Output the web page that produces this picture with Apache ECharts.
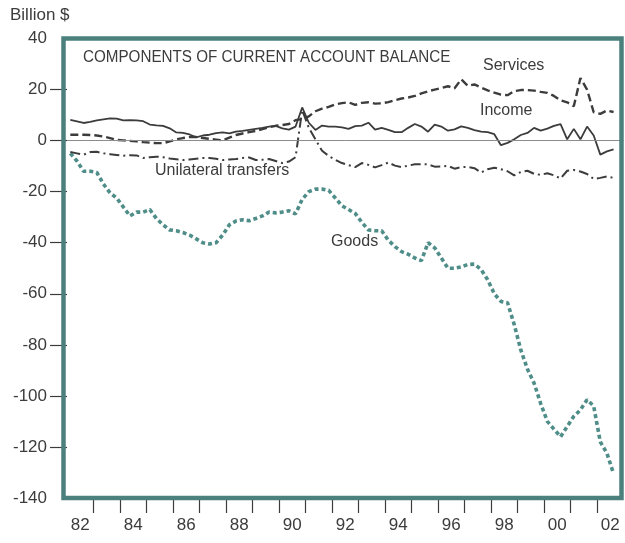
<!DOCTYPE html>
<html>
<head>
<meta charset="utf-8">
<title>Components of current account balance</title>
<script src="https://cdn.jsdelivr.net/npm/echarts@6/dist/echarts.min.js"></script>
<style>
    html, body { margin: 0; padding: 0; background: #fff; }
    #chart { width: 625px; height: 543px; }
</style>
</head>
<body>
<div id="chart"></div>
<script>
// quarterly values, 1982Q1 .. 2002Q3, billion $
const firstYear = 1982;

const goods = [
    -5, -8, -12, -12, -12.5, -17, -20.5, -22.5, -26, -29.5,
    -28, -28, -27, -30.5, -33, -35, -35.3, -36, -37, -38.5,
    -40, -40.5, -40, -37, -33, -31.5, -31, -31.4, -30.5, -29.5,
    -28, -28.3, -28, -27.5, -28.7, -23, -20, -19, -19, -19.5,
    -22.5, -25.5, -27, -28.5, -32, -35, -35.3, -35.3, -39, -41.5,
    -43.5, -44.5, -46, -47, -40, -42, -46, -50, -50, -49.5,
    -48.5, -48.4, -50.5, -54.5, -60, -63, -63.5, -72, -82, -89.5,
    -95, -103, -110, -113, -116, -112, -108, -105.5, -101.5, -104,
    -118, -122.5, -130.5,
];

const services = [
    2.3, 2.3, 2.3, 2.2, 2.0, 1.6, 1.0, 0.3, 0.1, -0.1,
    -0.3, -0.6, -0.8, -1.0, -1.0, -0.3, 0.5, 1.0, 1.4, 1.4,
    1.0, 0.7, 0.4, 0.1, 1.2, 2.2, 2.8, 3.3, 3.8, 4.5,
    5.2, 5.8, 6.1, 6.5, 8.0, 8.5, 9.5, 11.5, 12.5, 13.2,
    14.2, 14.7, 15.0, 14.0, 14.8, 15.0, 14.5, 14.6, 15.1, 15.8,
    16.5, 16.9, 17.5, 18.5, 19.3, 20.0, 20.6, 21.3, 20.5, 24.0,
    21.5, 22.0, 20.8, 19.7, 18.8, 18.0, 17.8, 19.4, 19.8, 19.8,
    19.6, 19.1, 18.7, 17.5, 15.8, 15.0, 13.5, 24.5, 20.0, 11.1,
    10.5, 11.8, 11.2,
];

const income = [
    8.1, 7.5, 6.9, 7.3, 7.9, 8.3, 8.7, 8.6, 7.9, 8.0,
    7.9, 7.6, 6.3, 6.0, 5.8, 4.8, 3.2, 3.0, 2.4, 1.3,
    2.0, 2.3, 2.9, 3.2, 2.8, 3.5, 3.8, 4.2, 4.6, 5.0,
    5.5, 5.8, 4.8, 4.3, 5.5, 13, 7, 4.2, 5.9, 5.5,
    5.5, 5.2, 4.6, 5.7, 5.9, 7.0, 4.3, 5.0, 4.2, 3.3,
    3.3, 5.0, 6.5, 5.5, 3.5, 6.3, 5.5, 3.9, 4.4, 5.6,
    5.0, 4.1, 3.5, 3.3, 2.5, -1.8, -0.9, 0.5, 2.2, 3.0,
    5.0, 3.9, 4.7, 5.8, 6.5, 0.5, 4.6, 0.5, 5.5, 2.0,
    -5.5, -4.2, -3.4,
];

const unilateralTransfers = [
    -4.5, -5.0, -5.5, -4.5, -4.4, -5.0, -5.3, -5.6, -5.9, -5.7,
    -5.8, -6.8, -6.5, -6.3, -6.5, -7.0, -7.3, -7.6, -7.4, -7.1,
    -6.8, -6.8, -7.1, -7.6, -7.4, -7.2, -6.8, -6.6, -7.6, -7.5,
    -7.2, -8.0, -8.8, -8.2, -6.5, 12, 5, 0.5, -4, -6,
    -7.5, -8.8, -9.6, -10.4, -8.8, -9.5, -10.5, -9.6, -8.6, -9.8,
    -10.4, -9.8, -9.3, -9.2, -9.3, -10.2, -10.1, -9.9, -11.0, -10.4,
    -10.3, -10.8, -12.5, -11.2, -10.6, -11.2, -12.0, -13.6, -12.3, -11.8,
    -13.0, -13.4, -12.8, -13.6, -14.8, -11.8, -11.5, -12.1, -13.1, -15.0,
    -14.6, -14.0, -14.6,
];

const yTickValues = [20, 0, -20, -40, -60, -80, -100, -120];
const yearTicks = [
    1983, 1984, 1985, 1986, 1987, 1988, 1989, 1990, 1991, 1992,
    1993, 1994, 1995, 1996, 1997, 1998, 1999, 2000, 2001, 2002,
];
const labelYears = [1982, 1984, 1986, 1988, 1990, 1992, 1994, 1996, 1998, 2000, 2002];

const ink = '#3c3c3c';
const teal = '#4b807d';
const goodsColor = '#4f8d89';
const font = 'Liberation Sans, Arial, sans-serif';

function toPoints(values) {
    return values.map((v, i) => [firstYear + (i + 0.5) / 4, v]);
}

function label(text, left, top, size, scaleX) {
    return {
        type: 'text',
        left: left,
        top: top,
        scaleX: scaleX || 1,
        style: { text: text, fill: ink, font: size + 'px ' + font },
    };
}

const chart = echarts.init(document.getElementById('chart'));

chart.setOption({
    animation: false,
    backgroundColor: '#fff',
    grid: { left: 67, right: 1.5, top: 38.5, bottom: 45, show: false },
    xAxis: {
        type: 'value',
        min: 1982,
        max: 2003,
        axisLine: { show: false, onZero: false },
        splitLine: { show: false },
        axisTick: {
            show: true,
            customValues: yearTicks,
            length: 15,
            lineStyle: { color: ink, width: 1.2 },
        },
        axisLabel: {
            customValues: labelYears.map((y) => y + 0.5),
            formatter: (v) => String(Math.floor(v)).slice(2),
            margin: 19,
            color: ink,
            fontSize: 17,
            fontFamily: font,
        },
    },
    yAxis: {
        type: 'value',
        min: -140,
        max: 40,
        interval: 20,
        axisLine: { show: false },
        splitLine: { show: false },
        axisTick: {
            show: true,
            customValues: yTickValues,
            length: 17,
            lineStyle: { color: ink, width: 1.2 },
        },
        axisLabel: {
            margin: 20,
            color: ink,
            fontSize: 17,
            fontFamily: font,
        },
    },
    series: [
        {
            name: 'Goods',
            type: 'line',
            data: toPoints(goods),
            showSymbol: false,
            lineStyle: { color: goodsColor, width: 3.6, type: [4, 3] },
        },
        {
            name: 'Services',
            type: 'line',
            data: toPoints(services),
            showSymbol: false,
            lineStyle: { color: ink, width: 2.4, type: [8, 4] },
        },
        {
            name: 'Unilateral transfers',
            type: 'line',
            data: toPoints(unilateralTransfers),
            showSymbol: false,
            lineStyle: { color: ink, width: 2, type: [10, 4, 2, 4] },
        },
        {
            name: 'Income',
            type: 'line',
            data: toPoints(income),
            showSymbol: false,
            lineStyle: { color: ink, width: 1.8 },
            markLine: {
                silent: true,
                symbol: ['none', 'none'],
                label: { show: false },
                lineStyle: { color: '#8c8c8c', width: 1, type: 'solid' },
                data: [{ yAxis: 0 }],
            },
        },
    ],
    graphic: [
        {
            type: 'rect',
            z: 10,
            shape: { x: 63.5, y: 38.5, width: 558, height: 459.5 },
            style: { fill: 'none', stroke: teal, lineWidth: 4.5 },
        },
        label('Billion $', 10, 7, 17),
        label('COMPONENTS OF CURRENT ACCOUNT BALANCE', 83, 50, 16, 0.95),
        label('Services', 483, 58, 16),
        label('Income', 480, 103, 16),
        label('Unilateral transfers', 155, 163, 16),
        label('Goods', 331, 234, 16),
    ],
});
</script>
</body>
</html>
